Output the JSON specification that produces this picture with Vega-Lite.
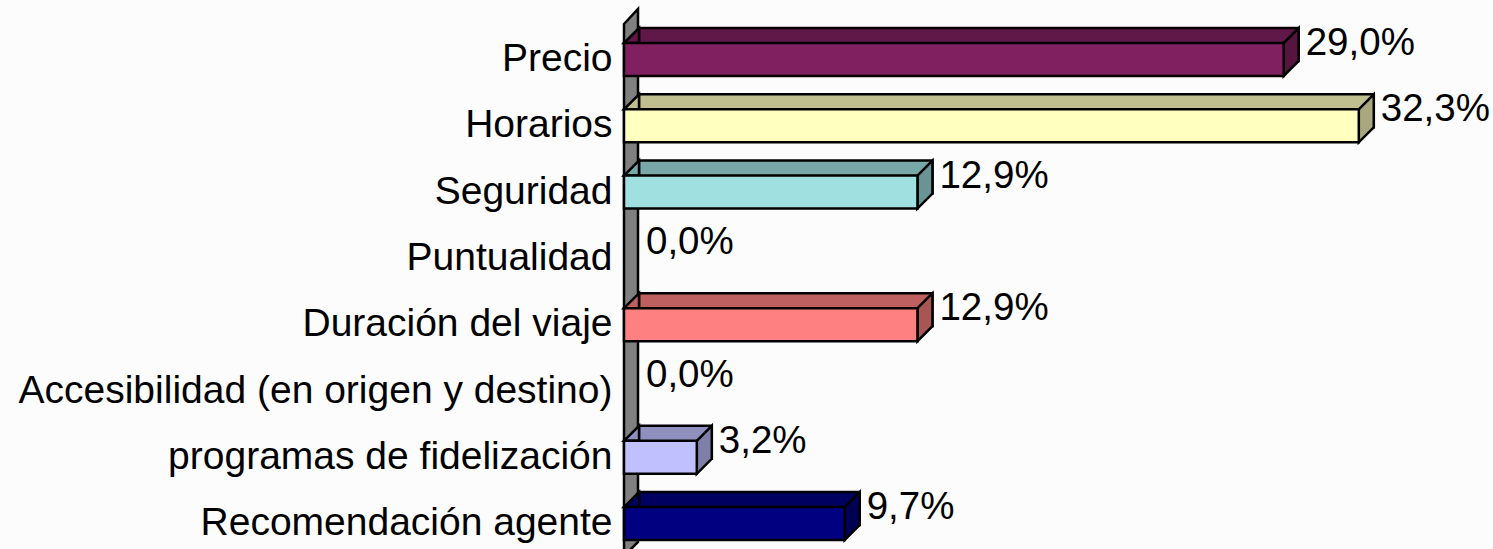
{
  "$schema": "https://vega.github.io/schema/vega-lite/v6.json",
  "width": 869,
  "height": 549,
  "autosize": {"type": "none"},
  "padding": {"left": 624, "top": 0, "right": 0, "bottom": 0},
  "background": "#fcfcfc",
  "config": {"view": {"stroke": null}},
  "data": {
    "values": [
      {"cat": "Precio", "value": 29.0, "label": "29,0%"},
      {"cat": "Horarios", "value": 32.3, "label": "32,3%"},
      {"cat": "Seguridad", "value": 12.9, "label": "12,9%"},
      {"cat": "Puntualidad", "value": 0.0, "label": "0,0%"},
      {"cat": "Duración del viaje", "value": 12.9, "label": "12,9%"},
      {"cat": "Accesibilidad (en origen y destino)", "value": 0.0, "label": "0,0%"},
      {"cat": "programas de fidelización", "value": 3.2, "label": "3,2%"},
      {"cat": "Recomendación agente", "value": 9.7, "label": "9,7%"}
    ]
  },
  "encoding": {
    "y": {
      "field": "cat",
      "type": "nominal",
      "sort": null,
      "scale": {
        "domain": ["Precio", "Horarios", "Seguridad", "Puntualidad", "Duración del viaje", "Accesibilidad (en origen y destino)", "programas de fidelización", "Recomendación agente"],
        "range": [26.35, 556.75],
        "paddingInner": 0,
        "paddingOuter": 0
      },
      "axis": {
        "title": null,
        "domain": false,
        "ticks": false,
        "tickSize": 0,
        "grid": false,
        "labelPadding": 12,
        "labelFont": "Liberation Sans",
        "labelFontSize": 39,
        "labelColor": "#000000",
        "labelBaseline": "alphabetic",
        "labelOffset": 11.5,
        "labelLimit": 0
      }
    }
  },
  "layer": [
    {
      "transform": [{"filter": "datum.cat === 'Precio'"}],
      "mark": {"type": "point", "filled": true, "opacity": 1, "size": 4, "shape": "M0,-35.5L14,-50.5L14,482.5L0,496.5Z", "fill": "#808080", "stroke": "#000000", "strokeWidth": 2.5},
      "encoding": {"x": {"datum": 0, "type": "quantitative", "scale": {"domain": [0, 38.2]}, "axis": null}}
    },
    {
      "transform": [{"filter": "datum.value > 0"}],
      "mark": {"type": "bar", "height": 33, "xOffset": 15, "x2Offset": 15, "yOffset": -15, "stroke": "#000000", "strokeWidth": 2.5},
      "encoding": {
        "x": {"field": "value", "type": "quantitative", "scale": {"domain": [0, 38.2]}, "axis": null},
        "fill": {
          "field": "cat", "type": "nominal", "legend": null,
          "scale": {
            "domain": ["Precio", "Horarios", "Seguridad", "Puntualidad", "Duración del viaje", "Accesibilidad (en origen y destino)", "programas de fidelización", "Recomendación agente"],
            "range": ["#601848", "#bfbf90", "#78a8a8", "#808080", "#bf6060", "#808080", "#9090bf", "#000060"]
          }
        }
      }
    },
    {
      "transform": [{"filter": "datum.value > 0"}],
      "mark": {"type": "point", "filled": true, "opacity": 1, "size": 4, "shape": "M0,-16.5L15,-31.5L15,1.5L0,16.5Z", "stroke": "#000000", "strokeWidth": 2.5},
      "encoding": {
        "x": {"field": "value", "type": "quantitative", "scale": {"domain": [0, 38.2]}, "axis": null},
        "fill": {
          "field": "cat", "type": "nominal", "legend": null,
          "scale": {
            "domain": ["Precio", "Horarios", "Seguridad", "Puntualidad", "Duración del viaje", "Accesibilidad (en origen y destino)", "programas de fidelización", "Recomendación agente"],
            "range": ["#55153f", "#a8a87f", "#6a9494", "#707070", "#a85555", "#707070", "#7f7fa8", "#000055"]
          }
        }
      }
    },
    {
      "transform": [{"filter": "datum.value > 0"}],
      "mark": {"type": "point", "filled": true, "opacity": 1, "size": 4, "shape": "M0,-16.5L15,-31.5L15,-16.5Z", "stroke": "#000000", "strokeWidth": 2.5},
      "encoding": {
        "x": {"datum": 0, "type": "quantitative", "scale": {"domain": [0, 38.2]}, "axis": null},
        "fill": {
          "field": "cat", "type": "nominal", "legend": null,
          "scale": {
            "domain": ["Precio", "Horarios", "Seguridad", "Puntualidad", "Duración del viaje", "Accesibilidad (en origen y destino)", "programas de fidelización", "Recomendación agente"],
            "range": ["#601848", "#bfbf90", "#78a8a8", "#808080", "#bf6060", "#808080", "#9090bf", "#000060"]
          }
        }
      }
    },
    {
      "transform": [{"filter": "datum.value > 0"}],
      "mark": {"type": "bar", "height": 33, "stroke": "#000000", "strokeWidth": 2.5},
      "encoding": {
        "x": {"field": "value", "type": "quantitative", "scale": {"domain": [0, 38.2]}, "axis": null},
        "fill": {
          "field": "cat", "type": "nominal", "legend": null,
          "scale": {
            "domain": ["Precio", "Horarios", "Seguridad", "Puntualidad", "Duración del viaje", "Accesibilidad (en origen y destino)", "programas de fidelización", "Recomendación agente"],
            "range": ["#802060", "#ffffc0", "#a0e0e0", "#a0a0a0", "#ff8080", "#a0a0a0", "#c0c0ff", "#000080"]
          }
        }
      }
    },
    {
      "mark": {"type": "text", "align": "left", "baseline": "alphabetic", "dx": 22, "dy": -4.5, "font": "Liberation Sans", "fontSize": 38.5, "fill": "#000000"},
      "encoding": {
        "x": {"field": "value", "type": "quantitative", "scale": {"domain": [0, 38.2]}, "axis": null},
        "text": {"field": "label"}
      }
    }
  ],
  "resolve": {"scale": {"fill": "independent"}}
}
